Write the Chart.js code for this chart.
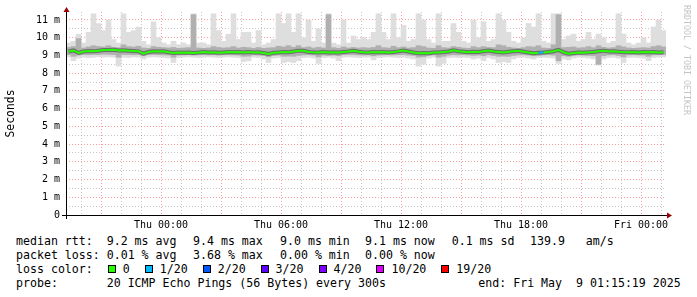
<!DOCTYPE html>
<html>
<head>
<meta charset="utf-8">
<script src="https://cdn.jsdelivr.net/npm/chart.js@4.4.1/dist/chart.umd.min.js"></script>
<style>
  body { margin: 0; background: #fff; }
  #wrap { position: relative; width: 697px; height: 297px; overflow: hidden; }
  #chart { position: absolute; left: 0; top: 0; }
  .t { position: absolute; font-family: "DejaVu Sans Mono", monospace; font-size: 11.6px;
       line-height: 14px; white-space: pre; color: #000; }
  .row3 { position: absolute; left: 16px; top: 262px; height: 14px; display: flex; align-items: center;
          font-family: "DejaVu Sans Mono", monospace; font-size: 11.6px; white-space: pre; }
  .box { display: inline-block; width: 8px; height: 8px; box-sizing: border-box; border: 1px solid #000;
         margin-left: 15px; margin-right: 7px; }
</style>
</head>
<body>
<div id="wrap">
  <canvas id="chart" width="697" height="232"></canvas>
  <div id="legend"></div>
</div>
<script>
// time axis: hours relative to Thu 00:00, one sample per 15 min
const startHour = -4.75;
const stepHours = 0.25;

const median = [
  9.22, 9.28, 9.14, 9.22, 9.25, 9.23, 9.27, 9.31, 9.30, 9.32,
  9.28, 9.29, 9.27, 9.25, 9.23, 9.10, 9.20, 9.23, 9.22, 9.24,
  9.18, 9.14, 9.16, 9.15, 9.17, 9.14, 9.16, 9.19, 9.16, 9.18,
  9.15, 9.17, 9.19, 9.18, 9.20, 9.17, 9.19, 9.16, 9.18, 9.14,
  9.08, 9.15, 9.17, 9.19, 9.18, 9.22, 9.27, 9.26, 9.20, 9.18,
  9.17, 9.19, 9.16, 9.18, 9.17, 9.20, 9.22, 9.26, 9.21, 9.18,
  9.17, 9.19, 9.18, 9.20, 9.17, 9.19, 9.23, 9.28, 9.22, 9.17,
  9.13, 9.14, 9.13, 9.17, 9.16, 9.19, 9.22, 9.29, 9.24, 9.21,
  9.18, 9.21, 9.19, 9.24, 9.28, 9.22, 9.20, 9.17, 9.21, 9.24,
  9.26, 9.21, 9.16, 9.13, 9.15, 9.17, 9.20, 9.24, 9.31, 9.18,
  9.10, 9.14, 9.16, 9.15, 9.18, 9.20, 9.24, 9.27, 9.22, 9.24,
  9.21, 9.19, 9.18, 9.20, 9.17, 9.19, 9.18, 9.20, 9.17, 9.18
];

// smoke: full ping spread (min / max)
const smokeHi = [
  9.7, 9.8, 10.2, 9.7, 10.3, 11.35, 10.8, 10.4, 11.0, 9.9,
  9.7, 11.35, 10.3, 10.4, 10.6, 9.8, 9.6, 10.9, 10.0, 9.7,
  9.6, 9.8, 9.6, 9.7, 9.6, 11.35, 9.7, 9.7, 9.6, 11.35,
  10.4, 9.8, 10.2, 11.35, 9.9, 10.3, 10.3, 9.7, 10.4, 9.6,
  9.7, 9.9, 11.35, 10.8, 11.35, 10.3, 11.35, 10.0, 11.0, 9.8,
  10.5, 9.7, 11.35, 9.7, 9.6, 11.0, 9.7, 10.1, 9.9, 10.0,
  9.9, 10.3, 11.35, 10.3, 9.9, 11.35, 10.0, 10.7, 9.8, 9.9,
  11.35, 11.0, 9.9, 9.7, 11.35, 9.8, 9.8, 10.8, 10.3, 9.8,
  9.7, 11.0, 10.0, 10.9, 9.8, 9.9, 11.35, 11.0, 10.3, 9.8,
  9.7, 10.0, 10.8, 10.6, 11.35, 9.8, 9.7, 11.35, 11.35, 9.9,
  10.1, 10.2, 9.8, 9.9, 10.3, 9.9, 10.2, 10.0, 9.7, 9.8,
  11.35, 10.2, 9.7, 9.6, 9.7, 10.0, 9.7, 10.6, 11.0, 10.4
];
const smokeLo = [
  8.92, 8.7, 8.85, 8.9, 8.88, 8.9, 8.93, 8.9, 8.92, 8.9,
  8.4, 8.9, 8.88, 8.92, 8.9, 8.8, 8.9, 8.92, 8.9, 8.88,
  8.85, 8.6, 8.88, 8.9, 8.92, 8.9, 8.88, 8.9, 8.92, 8.9,
  8.88, 8.9, 8.92, 8.9, 8.88, 8.65, 8.7, 8.9, 8.88, 8.8,
  8.6, 8.85, 8.88, 8.6, 8.65, 8.6, 8.7, 8.88, 8.9, 8.85,
  8.55, 8.88, 8.9, 8.85, 8.7, 8.9, 8.92, 8.9, 8.88, 8.9,
  8.9, 8.75, 8.88, 8.9, 8.92, 8.9, 8.88, 8.9, 8.85, 8.8,
  8.4, 8.5, 8.85, 8.9, 8.4, 8.55, 8.88, 8.9, 8.88, 8.9,
  8.88, 8.8, 8.85, 8.7, 8.88, 8.8, 8.6, 8.65, 8.6, 8.8,
  8.88, 8.9, 8.85, 8.8, 8.88, 8.9, 8.88, 8.85, 8.55, 8.8,
  8.75, 8.85, 8.9, 8.88, 8.85, 8.8, 8.45, 8.8, 8.88, 8.9,
  8.85, 8.6, 8.88, 8.9, 8.88, 8.85, 8.7, 8.88, 8.9, 8.92
];

// smoke: inner (denser) part of the spread
const bandHi = [
  9.45, 9.5, 9.95, 9.42, 9.48, 9.55, 9.5, 9.48, 9.55, 9.46,
  9.44, 9.6, 9.5, 9.48, 9.52, 9.42, 9.4, 9.5, 9.46, 9.44,
  9.42, 9.45, 9.4, 9.42, 9.44, 11.3, 9.42, 9.4, 9.42, 9.5,
  9.45, 9.42, 9.44, 9.5, 9.42, 9.46, 9.44, 9.4, 9.45, 9.4,
  9.42, 9.44, 9.52, 9.48, 9.55, 9.46, 9.55, 9.44, 9.48, 9.42,
  9.46, 9.42, 11.3, 9.44, 9.4, 9.48, 9.42, 9.45, 9.42, 9.44,
  9.42, 9.45, 9.55, 9.44, 9.42, 9.52, 9.44, 9.48, 9.42, 9.44,
  9.55, 9.5, 9.42, 9.4, 9.55, 9.44, 9.42, 9.5, 9.46, 9.42,
  9.4, 9.5, 9.44, 9.5, 9.45, 9.44, 9.6, 9.55, 9.46, 9.42,
  9.4, 9.44, 9.5, 9.48, 9.55, 9.42, 9.4, 9.6, 11.3, 9.44,
  9.46, 9.48, 9.42, 9.44, 9.5, 9.44, 9.55, 9.46, 9.42, 9.44,
  9.55, 9.48, 9.42, 9.4, 9.42, 9.44, 9.42, 9.5, 9.55, 9.48
];
const bandLo = [
  9.05, 8.95, 9.02, 9.05, 9.04, 9.06, 9.05, 9.07, 9.06, 9.05,
  8.9, 9.06, 9.05, 9.04, 9.05, 8.98, 9.04, 9.05, 9.04, 9.03,
  9.02, 8.9, 9.02, 9.03, 9.04, 9.02, 9.03, 9.04, 9.03, 9.04,
  9.02, 9.03, 9.04, 9.03, 9.02, 8.95, 8.96, 9.03, 9.02, 9.0,
  8.92, 9.0, 9.02, 8.95, 8.96, 8.95, 9.0, 9.03, 9.04, 9.02,
  8.92, 9.02, 9.0, 9.02, 8.98, 9.04, 9.05, 9.04, 9.03, 9.02,
  9.03, 8.98, 9.02, 9.03, 9.04, 9.03, 9.04, 9.05, 9.02, 9.0,
  8.9, 8.92, 9.0, 9.03, 8.9, 8.95, 9.02, 9.04, 9.03, 9.04,
  9.03, 9.0, 9.02, 8.98, 9.04, 9.0, 8.95, 8.96, 8.95, 9.0,
  9.03, 9.04, 9.02, 8.98, 9.0, 9.03, 9.04, 9.02, 8.7, 8.98,
  8.95, 9.0, 9.03, 9.02, 9.0, 8.98, 8.5, 8.98, 9.03, 9.04,
  9.0, 8.92, 9.03, 9.04, 9.03, 9.02, 8.95, 9.03, 9.04, 9.05
];

// lost pings out of 20, per sample
const loss = [
  0, 0, 0, 0, 0, 0, 0, 0, 0, 0, 0, 0, 0, 0, 0, 0, 0, 0, 0, 0,
  0, 0, 0, 0, 0, 0, 0, 0, 0, 0, 0, 0, 0, 0, 0, 0, 0, 0, 0, 0,
  0, 0, 0, 0, 0, 0, 0, 0, 0, 0, 0, 0, 0, 0, 0, 0, 0, 0, 0, 0,
  0, 0, 0, 0, 0, 0, 0, 0, 0, 0, 0, 0, 0, 0, 0, 0, 0, 0, 0, 0,
  0, 0, 0, 0, 0, 0, 0, 0, 0, 0, 0, 0, 0, 0, 1, 0, 0, 0, 0, 0,
  0, 0, 0, 0, 0, 0, 0, 0, 0, 0, 0, 0, 0, 0, 0, 0, 0, 0, 0, 0
];

const xTickHours = [-4, -3, -2, -1, 0, 1, 2, 3, 4, 5, 6, 7, 8, 9, 10, 11, 12, 13, 14,
  15, 16, 17, 18, 19, 20, 21, 22, 23, 24, 25];
const xLabelHours = [0, 6, 12, 18, 24];
const xLabels = ['Thu 00:00', 'Thu 06:00', 'Thu 12:00', 'Thu 18:00', 'Fri 00:00'];
const yTickValues = [0, 0.5, 1, 1.5, 2, 2.5, 3, 3.5, 4, 4.5, 5, 5.5, 6, 6.5, 7, 7.5, 8, 8.5,
  9, 9.5, 10, 10.5, 11];
const yLabels = ['0', '1 m', '2 m', '3 m', '4 m', '5 m', '6 m', '7 m', '8 m', '9 m', '10 m', '11 m'];

const lossColors = ['#26ff00', '#00b8ff', '#0059ff', '#5e00ff', '#7e00ff', '#dd00ff', '#ff0000'];
const lossNames = ['0', '1/20', '2/20', '3/20', '4/20', '10/20', '19/20'];

const hours = median.map((v, i) => startHour + stepHours * (i + 0.5));
const pts = arr => arr.map((v, i) => ({ x: hours[i], y: v }));
const ranges = (lo, hi) => lo.map((v, i) => ({ x: hours[i], y: [v, hi[i]] }));

const RED_GRID = 'rgba(255,95,95,0.6)';
const GRAY_GRID = 'rgba(150,150,150,0.55)';

const axesPlugin = {
  id: 'rrdAxes',
  afterDraw(chart) {
    const { ctx, chartArea: a } = chart;
    ctx.save();
    ctx.strokeStyle = '#000';
    ctx.lineWidth = 1;
    ctx.beginPath();
    ctx.moveTo(a.left - 4, a.bottom + 0.5);
    ctx.lineTo(a.right + 2, a.bottom + 0.5);
    ctx.moveTo(a.left + 0.5, a.bottom + 4);
    ctx.lineTo(a.left + 0.5, a.top - 1);
    ctx.stroke();
    ctx.fillStyle = '#990000';
    ctx.beginPath();
    ctx.moveTo(a.left + 0.5, a.top - 5);
    ctx.lineTo(a.left - 2.5, a.top);
    ctx.lineTo(a.left + 3.5, a.top);
    ctx.closePath();
    ctx.fill();
    ctx.beginPath();
    ctx.moveTo(a.right + 6, a.bottom + 0.5);
    ctx.lineTo(a.right + 1, a.bottom - 2.5);
    ctx.lineTo(a.right + 1, a.bottom + 3.5);
    ctx.closePath();
    ctx.fill();
    // watermark
    ctx.translate(686, 5);
    ctx.rotate(Math.PI / 2);
    ctx.fillStyle = '#c4c4c4';
    ctx.font = '8.3px "DejaVu Sans Mono"';
    ctx.textBaseline = 'middle';
    ctx.fillText('RRDTOOL / TOBI OETIKER', 0, 0);
    ctx.restore();
  }
};

new Chart(document.getElementById('chart'), {
  data: {
    datasets: [
      {
        type: 'line', data: pts(median), order: 0,
        borderWidth: 2, pointRadius: 0, tension: 0, borderColor: lossColors[0],
        segment: { borderColor: c => lossColors[Math.min(loss[c.p0DataIndex], 6)] }
      },
      {
        type: 'line', data: pts(median), order: 1,
        borderWidth: 4, pointRadius: 0, tension: 0, borderColor: 'rgba(85,85,85,0.75)'
      },
      {
        type: 'bar', data: ranges(bandLo, bandHi), order: 2, grouped: false,
        backgroundColor: '#b0b0b0', borderWidth: 0, categoryPercentage: 1, barPercentage: 1
      },
      {
        type: 'bar', data: ranges(smokeLo, smokeHi), order: 3, grouped: false,
        backgroundColor: '#dedede', borderWidth: 0, categoryPercentage: 1, barPercentage: 1
      }
    ]
  },
  options: {
    responsive: false,
    animation: false,
    layout: { padding: { left: 0, right: 31, top: 12, bottom: 0 } },
    plugins: { legend: { display: false }, tooltip: { enabled: false } },
    scales: {
      x: {
        type: 'linear', min: -4.75, max: 25.25, z: 1, offset: false,
        afterBuildTicks: s => { s.ticks = xTickHours.map(v => ({ value: v })); },
        afterFit: s => { s.height = 17; },
        grid: {
          drawTicks: false, offset: false,
          color: c => (c.tick && c.tick.value % 3 === 0 ? RED_GRID : GRAY_GRID)
        },
        border: { display: false, dash: [1, 2] },
        ticks: {
          autoSkip: false, maxRotation: 0, padding: 4, color: '#000',
          font: { family: 'DejaVu Sans Mono', size: 10 },
          callback: v => {
            const k = xLabelHours.indexOf(v);
            return k >= 0 ? xLabels[k] : '';
          }
        }
      },
      y: {
        type: 'linear', min: 0, max: 11.45, z: 1,
        afterBuildTicks: s => { s.ticks = yTickValues.map(v => ({ value: v })); },
        afterFit: s => { s.width = 66; },
        grid: {
          drawTicks: false,
          color: c => (c.tick && c.tick.value % 1 === 0 ? RED_GRID : GRAY_GRID)
        },
        border: { display: false, dash: [1, 2] },
        title: {
          display: true, text: 'Seconds', color: '#000',
          font: { family: 'DejaVu Sans Mono', size: 11.4 },
          padding: { top: 4, bottom: 0 }
        },
        ticks: {
          autoSkip: false, padding: 6, color: '#000',
          font: { family: 'DejaVu Sans Mono', size: 10 },
          callback: v => (v % 1 === 0 ? yLabels[v] : '')
        }
      }
    }
  },
  plugins: [axesPlugin]
});

// legend rows below the graph
const rowTop = [234, 248, 262, 275.5];
const cols = [16, 106.7, 193, 280, 365, 451.7, 530];
const rows = [
  ['median rtt:', '9.2 ms avg', '9.4 ms max', '9.0 ms min', '9.1 ms now', '0.1 ms sd', '139.9   am/s'],
  ['packet loss:', '0.01 % avg', '3.68 % max', '0.00 % min', '0.00 % now']
];
const legend = document.getElementById('legend');
function addText(txt, x, y) {
  const el = document.createElement('div');
  el.className = 't';
  el.style.left = x + 'px';
  el.style.top = y + 'px';
  el.textContent = txt;
  legend.appendChild(el);
}
rows.forEach((r, ri) => r.forEach((txt, ci) => addText(txt, cols[ci], rowTop[ri])));

const row3 = document.createElement('div');
row3.className = 'row3';
row3.style.top = rowTop[2] + 'px';
row3.appendChild(document.createTextNode('loss color:'));
lossNames.forEach((name, i) => {
  const b = document.createElement('span');
  b.className = 'box';
  b.style.background = lossColors[i];
  row3.appendChild(b);
  row3.appendChild(document.createTextNode(name));
});
legend.appendChild(row3);

addText('probe:', 16, rowTop[3]);
addText('20 ICMP Echo Pings (56 Bytes) every 300s', 106.7, rowTop[3]);
addText('end: Fri May  9 01:15:19 2025', 478.3, rowTop[3]);
</script>
</body>
</html>
